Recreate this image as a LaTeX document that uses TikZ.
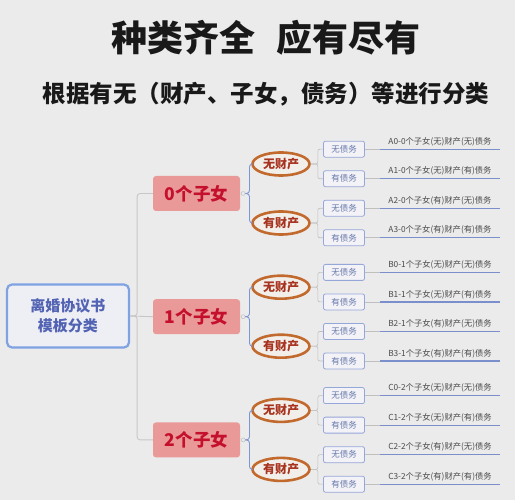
\documentclass[tikz,border=0pt]{standalone}
\usepackage{fontspec}
\setmainfont{Noto Sans CJK SC}
\usetikzlibrary{positioning,shapes.geometric}

\definecolor{paper}{HTML}{EBEBEB}
\definecolor{rootline}{HTML}{7FA2E2}
\definecolor{rootfill}{HTML}{EEEFF4}
\definecolor{rootink}{HTML}{5363B4}
\definecolor{kidfill}{HTML}{E99A98}
\definecolor{kidink}{HTML}{C40F2D}
\definecolor{assetline}{HTML}{C2692D}
\definecolor{assetfill}{HTML}{F2EEEA}
\definecolor{assetink}{HTML}{A8341F}
\definecolor{debtline}{HTML}{95A6D8}
\definecolor{debtfill}{HTML}{F3F3F7}
\definecolor{debtink}{HTML}{6676AA}
\definecolor{leafink}{HTML}{4A4A4A}
\definecolor{leafline}{HTML}{7A8FCB}
\definecolor{limbline}{HTML}{7D95D5}

\begin{document}
\begin{tikzpicture}[x=1pt, y=-1pt, line join=round,
  root/.style={draw=rootline, line width=2.2pt, rounded corners=5pt, fill=rootfill, minimum width=122pt, minimum height=63pt, align=center, text=rootink, font=\fontsize{15}{20}\selectfont\bfseries},
  kids/.style={fill=kidfill, rounded corners=3pt, minimum width=87pt, minimum height=35pt, text=kidink, font=\fontsize{17.5}{20}\selectfont\bfseries},
  asset/.style={ellipse, draw=assetline, line width=2.6pt, fill=assetfill, minimum width=57pt, minimum height=23pt, inner sep=0pt, text=assetink, font=\fontsize{12}{14}\selectfont\bfseries},
  debt/.style={draw=debtline, line width=0.8pt, rounded corners=2pt, fill=debtfill, minimum width=41pt, minimum height=16pt, inner sep=0pt, text=debtink, font=\fontsize{8.5}{10}\selectfont},
  leaf/.style={inner xsep=0pt, inner ysep=3pt, text width=120pt, align=center, text=leafink, font=\fontsize{8.3}{10}\selectfont},
  trunk/.style={draw=black!22, line width=0.9pt, rounded corners=3pt},
  limb/.style={draw=limbline, line width=0.9pt, rounded corners=3pt},
  twig/.style={draw=black!25, line width=0.6pt, rounded corners=2pt},
  knot/.style={circle, draw=black!25, fill=paper, line width=0.5pt, inner sep=0pt, minimum size=4pt}]

\fill[paper] (0,0) rectangle (515,500);
\useasboundingbox (0,0) rectangle (515,500);

\node[font=\fontsize{36}{40}\selectfont\bfseries, text=black!90] (title) at (266,38) {种类齐全\hspace{0.6em}应有尽有};
\node[font=\fontsize{23.5}{28}\selectfont\bfseries, text=black!90] (subtitle) at (266,94) {根据有无（财产、子女，债务）等进行分类};

\node[root] (root) at (68,316) {离婚协议书\\模板分类};

% three groups: 0, 1, 2 children
\foreach \k/\tag [count=\i from 0] in {0/A,1/B,2/C} {
  \pgfmathsetmacro{\ky}{193.5+123.2*\i}
  \node[kids] (kid\i) at (196.5,\ky) {\k 个子女};
  \node[asset] (none\i) at (281,\ky-29.5) {无财产};
  \node[asset] (some\i) at (281,\ky+29.5) {有财产};
  \node[knot] (knot\i) at ([xshift=3pt]kid\i.east) {};
  \draw[limb] (knot\i.east) -- ++(4,0) |- (none\i.west);
  \draw[limb] (knot\i.east) -- ++(4,0) |- (some\i.west);
  \foreach \j/\own/\owe/\up in {0/无/无/none, 1/无/有/none, 2/有/无/some, 3/有/有/some} {
    \pgfmathsetmacro{\dy}{\ky-44.3+29.53*\j}
    \node[debt] (debt\i-\j) at (344,\dy) {\owe 债务};
    \node[leaf, anchor=south] (leaf\i-\j) at (440,\dy) {\tag\j-\k 个子女(\own)财产(\owe)债务};
    \draw[twig] (\up\i.east) -- ++(7,0) |- (debt\i-\j.west);
    \draw[twig] (debt\i-\j.east) -- (leaf\i-\j.south west);
    \draw[leafline, line width=1.2pt] (leaf\i-\j.south west) -- (leaf\i-\j.south east);
  }
}

\draw[trunk] (root.east) -- (kid1.west);
\draw[trunk] (root.east) -- ++(7,0) |- (kid0.west);
\draw[trunk] (root.east) -- ++(7,0) |- (kid2.west);
\end{tikzpicture}
\end{document}
